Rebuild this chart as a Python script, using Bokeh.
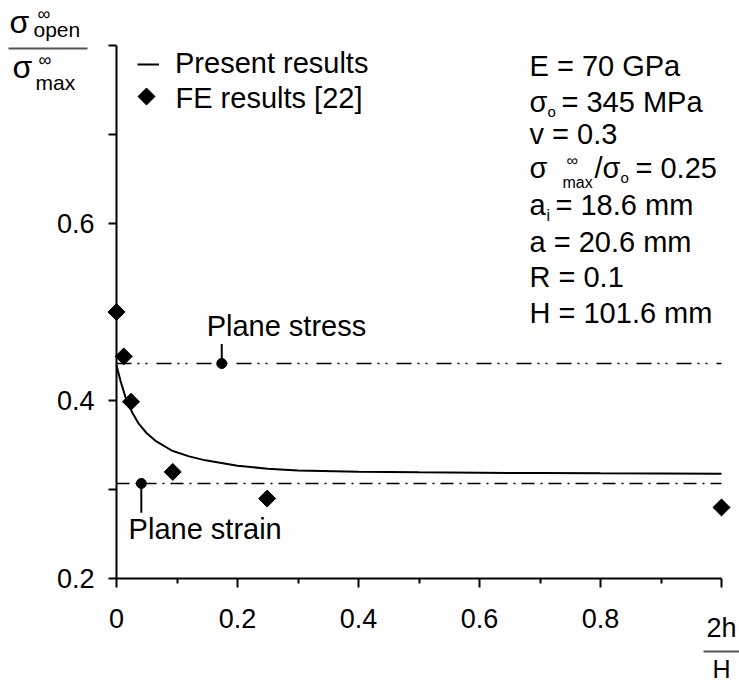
import math
from bokeh.plotting import figure
from bokeh.models import Range1d, FixedTicker, Label, Legend, LegendItem, BoxAnnotation
from bokeh.embed import file_html
from bokeh.resources import INLINE

# ---------------- data ----------------
curve_x = [0.0, 0.003, 0.0066, 0.015, 0.026, 0.037, 0.05, 0.0645, 0.092, 0.12,
           0.147, 0.2, 0.25, 0.3, 0.4, 0.5, 0.6, 0.7, 0.8, 0.9, 1.0]
curve_y = [0.440, 0.432, 0.4225, 0.4037, 0.387, 0.374, 0.3635, 0.355, 0.3438, 0.3375,
           0.333, 0.327, 0.3235, 0.3215, 0.3202, 0.3195, 0.319, 0.3187, 0.3184, 0.3182, 0.318]

fe_x = [0.0, 0.012, 0.024, 0.093, 0.249, 1.0]
fe_y = [0.500, 0.450, 0.399, 0.320, 0.290, 0.280]

limit_x = [0.0, 1.0]
plane_stress = 0.442
plane_strain = 0.307
stress_mark_x = 0.174
strain_mark_x = 0.041
stress_leader_end = 0.464
strain_leader_end = 0.274

x_ticks = [0.0, 0.2, 0.4, 0.6, 0.8, 1.0]
x_minor = [0.1, 0.3, 0.5, 0.7, 0.9]
x_labels = {0: "0", 0.2: "0.2", 0.4: "0.4", 0.6: "0.6", 0.8: "0.8", 1: ""}
y_ticks = [0.2, 0.3, 0.4, 0.5, 0.6, 0.7, 0.8]
y_labels = {0.2: "0.2", 0.3: "", 0.4: "0.4", 0.5: "", 0.6: "0.6", 0.7: "", 0.8: ""}

legend_labels = ["Present results", "FE results [22]"]
param_lines = ["E = 70 GPa", "v = 0.3", "a = 20.6 mm", "R = 0.1", "H = 101.6 mm"]

FONT = "Liberation Sans"
FS = 29                            # main text size
W, H = 739, 684
X0PX, XPX = 116.0, 605.0          # canvas x of x=0, pixels per x unit
Y02PX, YPX = 578.0, 533.0 / 0.6   # canvas y of y=0.2, pixels per y unit
BASE_K = 0.37                     # alphabetic baseline correction (fraction of font size)

p = figure(width=W, height=H, min_border=0,
           x_range=Range1d(-X0PX / XPX, 1 + (W - X0PX - XPX) / XPX),
           y_range=Range1d(0.2 - (H - Y02PX) / YPX, 0.8 + (Y02PX - 0.6 * YPX) / YPX),
           output_backend="svg", toolbar_location=None)
p.outline_line_color = None
p.grid.visible = False
p.background_fill_color = "white"
p.border_fill_color = "white"


def data_x(cx):
    return (cx - X0PX) / XPX


def data_y(cy):
    return 0.2 + (Y02PX - cy) / YPX


# axes
xa = p.xaxis[0]
xa.ticker = FixedTicker(ticks=x_ticks, minor_ticks=x_minor)
xa.bounds = (0, 1)
xa.fixed_location = 0.2
xa.major_label_overrides = x_labels
ya = p.yaxis[0]
ya.ticker = FixedTicker(ticks=y_ticks, minor_ticks=[])
ya.bounds = (0.2, 0.8)
ya.fixed_location = 0
ya.major_label_overrides = y_labels
for ax in (xa, ya):
    ax.axis_line_width = 2
    ax.axis_line_color = "black"
    ax.major_tick_line_width = 2
    ax.minor_tick_line_width = 2
    ax.major_tick_in = 0
    ax.minor_tick_in = 0
    ax.major_label_text_font = FONT
    ax.major_label_text_color = "black"
xa.major_tick_out = 9
xa.minor_tick_out = 5
xa.major_label_text_font_size = "27px"
xa.major_label_standoff = 21
ya.major_tick_out = 8
ya.major_label_text_font_size = "27px"
ya.major_label_standoff = 14

# reference lines
p.line(limit_x, [plane_stress, plane_stress], line_color="black", line_width=1.4,
       line_dash="15 6 2 6 2 9")
p.line(limit_x, [plane_strain, plane_strain], line_color="black", line_width=1.4,
       line_dash="13 6 2 6")
p.segment(x0=[stress_mark_x, strain_mark_x], y0=[plane_stress, plane_strain],
          x1=[stress_mark_x, strain_mark_x], y1=[stress_leader_end, strain_leader_end],
          line_color="black", line_width=2)
p.scatter([stress_mark_x, strain_mark_x], [plane_stress, plane_strain], marker="circle",
          size=10, color="black")

curve = p.line(curve_x, curve_y, line_color="black", line_width=2)
fe = p.scatter(fe_x, fe_y, marker="square", angle=math.pi / 4, size=12, color="black")

# legend: line entry through Legend, FE entry key drawn as the same rotated square
lg = Legend(items=[LegendItem(label=legend_labels[0], renderers=[curve])],
            location=(137, H - 80), padding=0, margin=0, spacing=0,
            glyph_width=22, glyph_height=30, label_height=30, label_standoff=16,
            label_text_font=FONT, label_text_font_size=f"{FS}px", label_text_color="black",
            border_line_color=None, background_fill_alpha=0)
p.add_layout(lg)
p.scatter([data_x(146)], [data_y(96)], marker="square", angle=math.pi / 4, size=12,
          color="black")


def sl(cx, cy, text, size, align="left", baseline="alphabetic"):
    if baseline == "alphabetic":
        cy = cy - BASE_K * size
    p.add_layout(Label(x=cx, y=H - cy, x_units="screen", y_units="screen",
                       text=text, text_font=FONT, text_font_size=f"{size}px",
                       text_baseline=baseline, text_align=align, text_color="black"))


def hbar(cx0, cx1, cy, color="#555555"):
    p.add_layout(BoxAnnotation(left=cx0, right=cx1, top=H - cy + 1, bottom=H - cy - 1,
                               left_units="screen", right_units="screen",
                               top_units="screen", bottom_units="screen",
                               fill_color=color, fill_alpha=1, line_color=None))


sl(175, 97, legend_labels[1], FS, baseline="middle")

# plane labels (data units, baseline corrected)
p.add_layout(Label(x=0.149, y=data_y(336 - BASE_K * FS), text="Plane stress", text_font=FONT,
                   text_font_size=f"{FS}px", text_baseline="alphabetic", text_color="black"))
p.add_layout(Label(x=0.02, y=data_y(539 - BASE_K * FS), text="Plane strain", text_font=FONT,
                   text_font_size=f"{FS}px", text_baseline="alphabetic", text_color="black"))

# parameter block
sl(529, 76, param_lines[0], FS)
sl(529, 112, "σ", FS); sl(547, 117, "o", 15); sl(561, 112, "= 345 MPa", FS)
sl(529, 144, param_lines[1], FS)
sl(529, 178, "σ", FS); sl(566, 166, "∞", 16); sl(562, 188, "max", 16)
sl(594, 178, "/σ", FS); sl(620, 183, "o", 15); sl(635, 178, "= 0.25", FS)
sl(529, 215, "a", FS); sl(546, 221, "i", 16); sl(555, 215, "= 18.6 mm", FS)
sl(529, 252, param_lines[2], FS)
sl(529, 287, param_lines[3], FS)
sl(529, 323, param_lines[4], FS)

# y axis label (fraction)
sl(9, 33, "σ", 32); sl(37, 20, "∞", 18); sl(33, 37, "open", 21)
hbar(8, 87, 48)
sl(12, 78, "σ", 32); sl(38, 66, "∞", 18); sl(35, 90, "max", 21)

# x axis label (fraction)
sl(721, 637, "2h", 27, "center")
hbar(703, 739, 651)
sl(721, 678, "H", 25, "center")

open("out.html", "w").write(file_html(p, INLINE))
